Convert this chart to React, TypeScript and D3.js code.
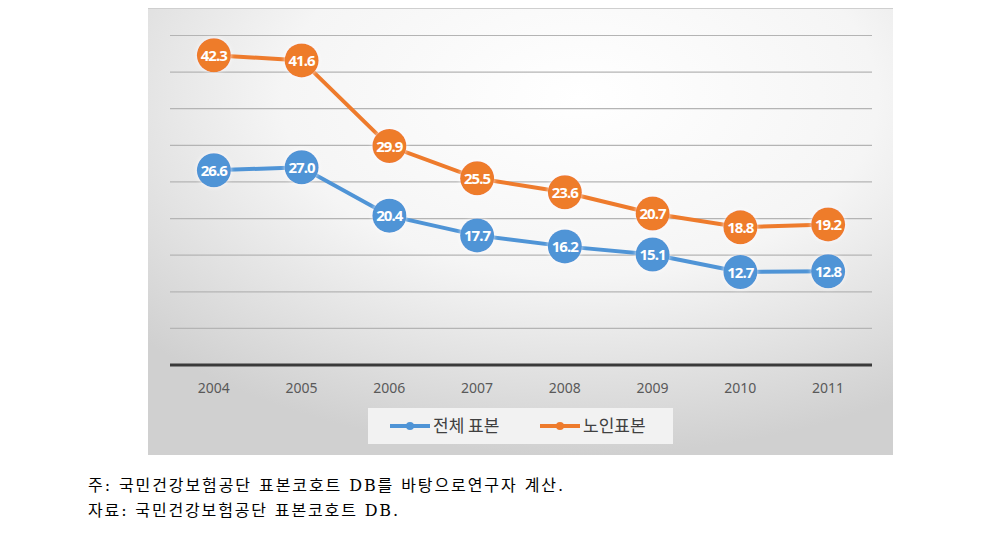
import React from "react";
import * as d3 from "d3";

const years = ["2004", "2005", "2006", "2007", "2008", "2009", "2010", "2011"];
const totalSample = [26.6, 27.0, 20.4, 17.7, 16.2, 15.1, 12.7, 12.8];
const elderlySample = [42.3, 41.6, 29.9, 25.5, 23.6, 20.7, 18.8, 19.2];
const gridValues = [0, 5, 10, 15, 20, 25, 30, 35, 40, 45];
const seriesNames = ["전체 표본", "노인표본"];
const notes = [
  "주: 국민건강보험공단 표본코호트 DB를 바탕으로연구자 계산.",
  "자료: 국민건강보험공단 표본코호트 DB.",
];

const W = 998;
const H = 544;
const BLUE = "#4F94D6";
const ORANGE = "#EE7B2C";

export default function App() {
  const x = d3.scaleBand<string>().domain(years).range([170, 872]);
  const y = d3.scaleLinear().domain([0, 45]).range([365, 35.5]);
  const cx = (d: string) => (x(d) as number) + x.bandwidth() / 2;
  const line = d3
    .line<number>()
    .x((_, i) => cx(years[i]))
    .y((v) => y(v));

  const series = [
    { name: seriesNames[0], values: totalSample, color: BLUE },
    { name: seriesNames[1], values: elderlySample, color: ORANGE },
  ];
  const noteWidths = [475, 310];

  return (
    <svg
      width={W}
      height={H}
      style={{ position: "absolute", left: 0, top: 0, background: "#fff" }}
    >
      <defs>
        <radialGradient id="bg" cx="0.58" cy="0.2" r="0.8">
          <stop offset="0" stopColor="#ffffff" />
          <stop offset="0.5" stopColor="#f5f5f5" />
          <stop offset="1" stopColor="#d0d0d0" />
        </radialGradient>
        <filter id="glow" x="-50%" y="-50%" width="200%" height="200%">
          <feGaussianBlur in="SourceAlpha" stdDeviation="2" result="b" />
          <feFlood floodColor="#ffffff" floodOpacity="0.8" />
          <feComposite in2="b" operator="in" result="g" />
          <feMerge>
            <feMergeNode in="g" />
            <feMergeNode in="SourceGraphic" />
          </feMerge>
        </filter>
      </defs>
      <rect x={148} y={8} width={745} height={447} fill="url(#bg)" />
      <line x1={148} x2={893} y1={8.5} y2={8.5} stroke="#cfcfcf" strokeWidth={1} />

      {gridValues.slice(1).map((g) => (
        <line
          key={g}
          x1={170}
          x2={872}
          y1={y(g)}
          y2={y(g)}
          stroke="#b4b4b4"
          strokeWidth={1.2}
        />
      ))}
      <line x1={170} x2={872} y1={y(0)} y2={y(0)} stroke="#3a3a3a" strokeWidth={3} />

      {years.map((yr) => (
        <text
          key={yr}
          x={cx(yr)}
          y={393}
          textAnchor="middle"
          fontFamily="'Noto Sans', sans-serif"
          fontSize={14}
          fill="#595959"
        >
          {yr}
        </text>
      ))}

      {series.map((s) => (
        <g key={s.name}>
          <path d={line(s.values) || ""} fill="none" stroke={s.color} strokeWidth={4} />
          {s.values.map((v, i) => (
            <g key={i}>
              <circle cx={cx(years[i])} cy={y(v)} r={17} fill={s.color} filter="url(#glow)" />
              <text
                x={cx(years[i])}
                y={y(v) + 5.5}
                textAnchor="middle"
                fontFamily="'Noto Sans', sans-serif"
                fontWeight="bold"
                fontSize={15}
                letterSpacing={-0.9}
                fill="#ffffff"
              >
                {v.toFixed(1)}
              </text>
            </g>
          ))}
        </g>
      ))}

      <rect x={368} y={408} width={305} height={36} fill="#f2f2f2" />
      {series.map((s, i) => {
        const lx = i === 0 ? 390 : 540;
        return (
          <g key={s.name}>
            <line x1={lx} x2={lx + 40} y1={426} y2={426} stroke={s.color} strokeWidth={4} />
            <circle cx={lx + 20} cy={426} r={4} fill={s.color} />
            <text
              x={lx + 43}
              y={432}
              fontFamily="'Noto Sans CJK KR', sans-serif"
              fontSize={17}
              fill="#404040"
            >
              {s.name}
            </text>
          </g>
        );
      })}

      {notes.map((n, i) => (
        <text
          key={i}
          x={88}
          y={491 + i * 25}
          fontFamily="'DejaVu Serif', 'Noto Sans CJK KR', serif"
          fontSize={16}
          textLength={noteWidths[i]}
          lengthAdjust="spacing"
          fill="#000"
        >
          {n}
        </text>
      ))}
    </svg>
  );
}
